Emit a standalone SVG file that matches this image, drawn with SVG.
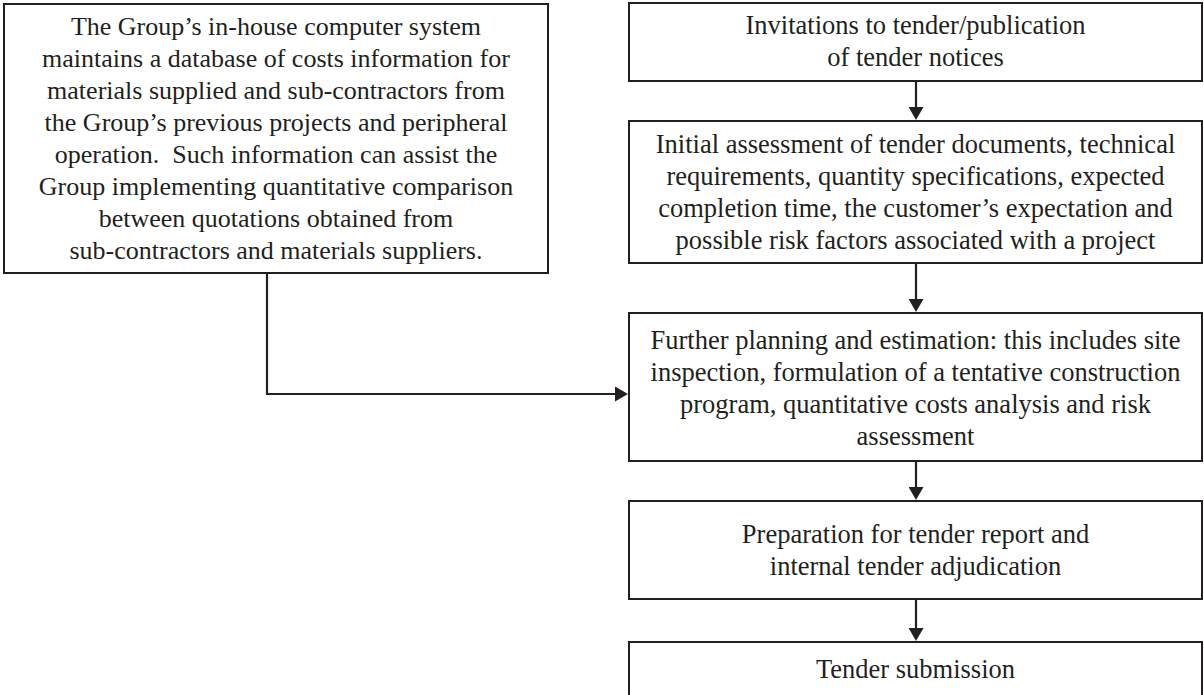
<svg xmlns="http://www.w3.org/2000/svg" width="1204" height="695" viewBox="0 0 1204 695">
<style>
.box{fill:#ffffff;stroke:#231f20;stroke-width:2}
.t{font-family:"Liberation Serif","Times New Roman",serif;font-size:26px;fill:#231f20;text-anchor:middle}
.r{font-size:26.5px}
.c{fill:none;stroke:#231f20;stroke-width:2.2}
</style>
<defs>
<marker id="ah" markerUnits="userSpaceOnUse" markerWidth="13" markerHeight="15" refX="1" refY="7.5" orient="auto" viewBox="0 0 13 15">
<path d="M0,0 L13,7.5 L0,15 Z" fill="#231f20"/>
</marker>
</defs>
<rect width="1204" height="695" fill="#ffffff"/>
<g id="node-database">
<rect class="box" x="4" y="4" width="544" height="269"/>
<text class="t" x="276" y="35">The Group’s in-house computer system</text>
<text class="t" x="276" y="67">maintains a database of costs information for</text>
<text class="t" x="276" y="99">materials supplied and sub-contractors from</text>
<text class="t" x="276" y="131">the Group’s previous projects and peripheral</text>
<text class="t" x="276" y="163">operation.&#160; Such information can assist the</text>
<text class="t" x="276" y="195">Group implementing quantitative comparison</text>
<text class="t" x="276" y="227">between quotations obtained from</text>
<text class="t" x="276" y="259">sub-contractors and materials suppliers.</text>
</g>
<g id="node-invitations">
<rect class="box" x="629" y="3" width="573" height="78"/>
<text class="t r" x="915.5" y="34">Invitations to tender/publication</text>
<text class="t r" x="915.5" y="66">of tender notices</text>
</g>
<g id="node-initial">
<rect class="box" x="629" y="121" width="573" height="142"/>
<text class="t r" x="915.5" y="153">Initial assessment of tender documents, technical</text>
<text class="t r" x="915.5" y="185">requirements, quantity specifications, expected</text>
<text class="t r" x="915.5" y="217">completion time, the customer’s expectation and</text>
<text class="t r" x="915.5" y="249">possible risk factors associated with a project</text>
</g>
<g id="node-further">
<rect class="box" x="629" y="313" width="573" height="148"/>
<text class="t r" x="915.5" y="349">Further planning and estimation: this includes site</text>
<text class="t r" x="915.5" y="381">inspection, formulation of a tentative construction</text>
<text class="t r" x="915.5" y="413">program, quantitative costs analysis and risk</text>
<text class="t r" x="915.5" y="445">assessment</text>
</g>
<g id="node-preparation">
<rect class="box" x="629" y="501" width="573" height="98"/>
<text class="t r" x="915.5" y="543">Preparation for tender report and</text>
<text class="t r" x="915.5" y="575">internal tender adjudication</text>
</g>
<g id="node-submission">
<rect class="box" x="629" y="642" width="573" height="56"/>
<text class="t r" x="915.5" y="678">Tender submission</text>
</g>
<g id="connectors">
<line class="c" x1="916" y1="82" x2="916" y2="108" marker-end="url(#ah)"/>
<line class="c" x1="916" y1="264" x2="916" y2="300" marker-end="url(#ah)"/>
<line class="c" x1="916" y1="462" x2="916" y2="488" marker-end="url(#ah)"/>
<line class="c" x1="916" y1="600" x2="916" y2="629" marker-end="url(#ah)"/>
<polyline class="c" points="267,274 267,394 616,394" marker-end="url(#ah)"/>
</g>
</svg>
